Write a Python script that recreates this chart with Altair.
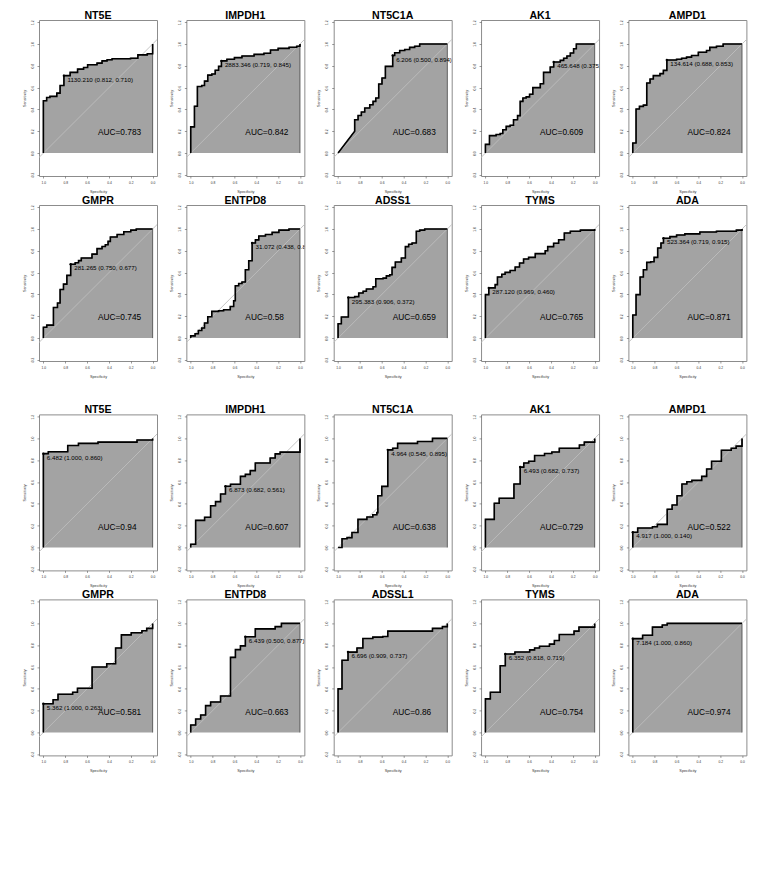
import altair as alt
import pandas as pd

FONT = "Liberation Sans"
FILL = "#a3a3a3"
DIAG = "#bdbdbd"
BOX = "#8c8c8c"

X_MIN, X_MAX = -0.04, 1.04
Y_MIN, Y_MAX = -0.21, 1.22
X_TICKS = [1.0, 0.8, 0.6, 0.4, 0.2, 0.0]
Y_TICKS = [-0.2, 0.0, 0.2, 0.4, 0.6, 0.8, 1.0, 1.2]
AUC_X, AUC_Y = 0.5, 0.18

# ---------------- top figure ----------------
TITLES_TOP = ["NT5E", "IMPDH1", "NT5C1A", "AK1", "AMPD1",
              "GMPR", "ENTPD8", "ADSS1", "TYMS", "ADA"]
AUC_TOP = ["0.783", "0.842", "0.683", "0.609", "0.824",
           "0.745", "0.58", "0.659", "0.765", "0.871"]
THR_TOP = ["1130.210", "2883.346", "6.206", "465.648", "134.614",
           "281.265", "31.072", "295.383", "287.120", "523.364"]
THR_SPEC_TOP = [0.812, 0.719, 0.500, 0.375, 0.688, 0.750, 0.438, 0.906, 0.969, 0.719]
THR_SENS_TOP = [0.710, 0.845, 0.894, 0.835, 0.853, 0.677, 0.872, 0.372, 0.460, 0.915]

# ---------------- bottom figure ----------------
TITLES_BOT = ["NT5E", "IMPDH1", "NT5C1A", "AK1", "AMPD1",
              "GMPR", "ENTPD8", "ADSSL1", "TYMS", "ADA"]
AUC_BOT = ["0.94", "0.607", "0.638", "0.729", "0.522",
           "0.581", "0.663", "0.86", "0.754", "0.974"]
THR_BOT = ["6.482", "6.873", "4.964", "6.493", "4.917",
           "5.362", "6.439", "6.696", "6.352", "7.184"]
THR_SPEC_BOT = [1.000, 0.682, 0.545, 0.682, 1.000, 1.000, 0.500, 0.909, 0.818, 1.000]
THR_SENS_BOT = [0.860, 0.561, 0.895, 0.737, 0.140, 0.263, 0.877, 0.737, 0.719, 0.860]

# ROC step corners (specificity where sensitivity jumps, sensitivity after the jump)
nt5e_a_spec = [1.0, 0.97, 0.94, 0.877, 0.847, 0.812, 0.755, 0.687, 0.632, 0.595, 0.509, 0.463, 0.417, 0.371, 0.202, 0.135, 0.049, 0.0]
nt5e_a_sens = [0.48, 0.51, 0.52, 0.55, 0.62, 0.71, 0.74, 0.77, 0.785, 0.81, 0.825, 0.845, 0.855, 0.865, 0.87, 0.90, 0.91, 1.0]
impdh1_a_spec = [1.0, 0.966, 0.939, 0.899, 0.874, 0.844, 0.807, 0.776, 0.745, 0.719, 0.669, 0.600, 0.531, 0.42, 0.33, 0.27, 0.20, 0.10, 0.03, 0.0]
impdh1_a_sens = [0.24, 0.43, 0.61, 0.62, 0.66, 0.715, 0.725, 0.76, 0.795, 0.845, 0.86, 0.875, 0.89, 0.905, 0.915, 0.945, 0.96, 0.97, 0.98, 1.0]
nt5c1a_a_spec = [0.848, 0.848, 0.817, 0.787, 0.756, 0.71, 0.68, 0.655, 0.628, 0.598, 0.567, 0.50, 0.482, 0.436, 0.39, 0.345, 0.299, 0.253, 0.0]
nt5c1a_a_sens = [0.2, 0.306, 0.345, 0.376, 0.413, 0.443, 0.474, 0.505, 0.633, 0.688, 0.795, 0.894, 0.92, 0.94, 0.95, 0.969, 0.98, 1.0, 1.0]
ak1_a_spec = [1.0, 0.963, 0.902, 0.865, 0.841, 0.81, 0.774, 0.743, 0.706, 0.682, 0.657, 0.627, 0.596, 0.566, 0.498, 0.468, 0.407, 0.375, 0.315, 0.284, 0.254, 0.223, 0.193, 0.168, 0.0]
ak1_a_sens = [0.08, 0.16, 0.17, 0.18, 0.214, 0.245, 0.255, 0.306, 0.343, 0.474, 0.505, 0.515, 0.54, 0.60, 0.636, 0.74, 0.789, 0.835, 0.85, 0.87, 0.89, 0.917, 0.957, 1.0, 1.0]
ampd1_a_spec = [1.0, 0.97, 0.939, 0.903, 0.872, 0.842, 0.812, 0.751, 0.72, 0.688, 0.599, 0.553, 0.508, 0.462, 0.40, 0.325, 0.295, 0.234, 0.173, 0.0]
ampd1_a_sens = [0.092, 0.404, 0.428, 0.44, 0.642, 0.679, 0.71, 0.728, 0.758, 0.853, 0.86, 0.87, 0.88, 0.895, 0.925, 0.94, 0.969, 0.98, 1.0, 1.0]
gmpr_a_spec = [1.0, 0.969, 0.908, 0.871, 0.847, 0.816, 0.785, 0.75, 0.709, 0.678, 0.653, 0.555, 0.509, 0.463, 0.433, 0.408, 0.387, 0.325, 0.264, 0.2, 0.15, 0.0]
gmpr_a_sens = [0.10, 0.119, 0.281, 0.321, 0.446, 0.495, 0.575, 0.677, 0.69, 0.71, 0.734, 0.77, 0.82, 0.84, 0.856, 0.887, 0.927, 0.95, 0.975, 0.99, 1.0, 1.0]
entpd8_a_spec = [1.0, 0.96, 0.93, 0.899, 0.874, 0.844, 0.807, 0.745, 0.699, 0.638, 0.607, 0.592, 0.561, 0.531, 0.50, 0.469, 0.438, 0.408, 0.377, 0.316, 0.255, 0.193, 0.101, 0.0]
entpd8_a_sens = [0.02, 0.04, 0.07, 0.092, 0.138, 0.196, 0.245, 0.25, 0.26, 0.29, 0.342, 0.48, 0.50, 0.514, 0.627, 0.709, 0.872, 0.90, 0.936, 0.95, 0.969, 0.99, 1.0, 1.0]
adss1_a_spec = [1.0, 0.97, 0.906, 0.848, 0.811, 0.771, 0.741, 0.68, 0.655, 0.588, 0.558, 0.527, 0.506, 0.476, 0.421, 0.384, 0.354, 0.323, 0.284, 0.253, 0.207, 0.0]
adss1_a_sens = [0.131, 0.193, 0.372, 0.38, 0.413, 0.43, 0.45, 0.47, 0.544, 0.55, 0.57, 0.58, 0.648, 0.697, 0.734, 0.838, 0.86, 0.872, 0.979, 0.99, 1.0, 1.0]
tyms_a_spec = [1.0, 0.969, 0.911, 0.89, 0.85, 0.82, 0.774, 0.728, 0.688, 0.651, 0.605, 0.544, 0.453, 0.43, 0.376, 0.33, 0.278, 0.223, 0.131, 0.0]
tyms_a_sens = [0.398, 0.46, 0.49, 0.56, 0.585, 0.602, 0.62, 0.651, 0.688, 0.725, 0.74, 0.774, 0.80, 0.838, 0.87, 0.902, 0.963, 0.98, 0.99, 1.0]
ada_a_spec = [1.0, 0.97, 0.933, 0.903, 0.872, 0.836, 0.805, 0.772, 0.742, 0.719, 0.66, 0.599, 0.523, 0.386, 0.234, 0.052, 0.0]
ada_a_sens = [0.211, 0.398, 0.56, 0.627, 0.694, 0.70, 0.74, 0.826, 0.872, 0.915, 0.93, 0.945, 0.955, 0.972, 0.98, 0.99, 1.0]

nt5e_b_spec = [1.0, 0.955, 0.777, 0.679, 0.5, 0.143, 0.0]
nt5e_b_sens = [0.86, 0.877, 0.935, 0.954, 0.966, 0.985, 1.0]
impdh1_b_spec = [1.0, 0.955, 0.873, 0.818, 0.773, 0.727, 0.682, 0.636, 0.545, 0.5, 0.455, 0.409, 0.273, 0.227, 0.182, 0.0]
impdh1_b_sens = [0.03, 0.249, 0.277, 0.382, 0.42, 0.49, 0.561, 0.58, 0.652, 0.67, 0.705, 0.775, 0.82, 0.858, 0.874, 1.0]
nt5c1a_b_spec = [0.964, 0.918, 0.873, 0.818, 0.736, 0.682, 0.645, 0.636, 0.60, 0.545, 0.50, 0.455, 0.273, 0.136, 0.0]
nt5c1a_b_sens = [0.08, 0.09, 0.138, 0.258, 0.28, 0.30, 0.32, 0.474, 0.56, 0.895, 0.91, 0.954, 0.972, 1.0, 1.0]
ak1_b_spec = [1.0, 0.919, 0.874, 0.739, 0.682, 0.649, 0.604, 0.55, 0.459, 0.392, 0.324, 0.14, 0.095, 0.0]
ak1_b_sens = [0.258, 0.406, 0.452, 0.582, 0.737, 0.775, 0.79, 0.843, 0.862, 0.875, 0.91, 0.94, 0.966, 1.0]
ampd1_b_spec = [1.0, 0.955, 0.82, 0.775, 0.685, 0.64, 0.595, 0.55, 0.505, 0.459, 0.369, 0.324, 0.279, 0.189, 0.099, 0.054, 0.0]
ampd1_b_sens = [0.14, 0.178, 0.19, 0.212, 0.351, 0.39, 0.474, 0.582, 0.603, 0.615, 0.652, 0.72, 0.79, 0.892, 0.91, 0.929, 1.0]
gmpr_b_spec = [1.0, 0.911, 0.866, 0.732, 0.688, 0.554, 0.42, 0.339, 0.286, 0.196, 0.098, 0.054, 0.0]
gmpr_b_sens = [0.263, 0.30, 0.351, 0.369, 0.406, 0.60, 0.63, 0.775, 0.895, 0.914, 0.932, 0.954, 1.0]
entpd8_b_spec = [1.0, 0.955, 0.909, 0.864, 0.818, 0.727, 0.636, 0.591, 0.545, 0.5, 0.409, 0.227, 0.17, 0.0]
entpd8_b_sens = [0.068, 0.123, 0.16, 0.246, 0.28, 0.335, 0.689, 0.76, 0.794, 0.877, 0.95, 0.97, 1.0, 1.0]
adssl1_b_spec = [1.0, 0.964, 0.909, 0.827, 0.773, 0.682, 0.591, 0.545, 0.136, 0.045, 0.0]
adssl1_b_sens = [0.40, 0.662, 0.737, 0.775, 0.862, 0.874, 0.88, 0.929, 0.954, 0.97, 1.0]
tyms_b_spec = [1.0, 0.955, 0.865, 0.818, 0.73, 0.595, 0.55, 0.505, 0.414, 0.369, 0.324, 0.189, 0.144, 0.0]
tyms_b_sens = [0.308, 0.369, 0.612, 0.719, 0.738, 0.757, 0.775, 0.79, 0.81, 0.843, 0.898, 0.929, 0.966, 1.0]
ada_b_spec = [1.0, 0.91, 0.82, 0.73, 0.685, 0.0]
ada_b_sens = [0.86, 0.892, 0.966, 0.985, 1.0, 1.0]

CURVES_TOP = [(nt5e_a_spec, nt5e_a_sens), (impdh1_a_spec, impdh1_a_sens), (nt5c1a_a_spec, nt5c1a_a_sens),
              (ak1_a_spec, ak1_a_sens), (ampd1_a_spec, ampd1_a_sens), (gmpr_a_spec, gmpr_a_sens),
              (entpd8_a_spec, entpd8_a_sens), (adss1_a_spec, adss1_a_sens), (tyms_a_spec, tyms_a_sens),
              (ada_a_spec, ada_a_sens)]
CURVES_BOT = [(nt5e_b_spec, nt5e_b_sens), (impdh1_b_spec, impdh1_b_sens), (nt5c1a_b_spec, nt5c1a_b_sens),
              (ak1_b_spec, ak1_b_sens), (ampd1_b_spec, ampd1_b_sens), (gmpr_b_spec, gmpr_b_sens),
              (entpd8_b_spec, entpd8_b_sens), (adssl1_b_spec, adssl1_b_sens), (tyms_b_spec, tyms_b_sens),
              (ada_b_spec, ada_b_sens)]
STRAIGHT_FIRST_TOP = [False, False, True, False, False, False, False, False, False, False]


def roc_path(spec, sens, straight_first=False):
    pts = [(1.0, 0.0)]
    for i, (s, e) in enumerate(zip(spec, sens)):
        if i == 0 and straight_first:
            pts.append((s, e))
            continue
        ps, pe = pts[-1]
        if s != ps:
            pts.append((s, pe))
        if e != pe:
            pts.append((s, e))
    return pts


YLAB = "datum.value < 0 ? '-' + format(-datum.value, '.1f') : format(datum.value, '.1f')"

X_AXIS = alt.Axis(values=X_TICKS, format=".1f", labelFontSize=3.3, titleFontSize=3.8,
                  tickSize=2, tickWidth=0.6, tickColor="#555", labelPadding=2.2,
                  titlePadding=6, domain=False, grid=False, labelFlush=False,
                  labelOverlap=False, labelColor="#333", titleColor="#333",
                  titleFontWeight="normal", labelFont=FONT, titleFont=FONT)
Y_AXIS = alt.Axis(values=Y_TICKS, labelExpr=YLAB, labelFontSize=3.3, titleFontSize=3.8,
                  tickSize=2, tickWidth=0.6, tickColor="#555", labelPadding=3,
                  labelAngle=270, labelAlign="center", labelBaseline="bottom",
                  titlePadding=4, domain=False, grid=False, labelFlush=False,
                  labelOverlap=False, labelColor="#333", titleColor="#333",
                  titleFontWeight="normal", labelFont=FONT, titleFont=FONT)


def panel(title, curve, thr, thr_spec, thr_sens, auc, straight_first=False):
    pts = roc_path(curve[0], curve[1], straight_first)
    df = pd.DataFrame({"spec": [p[0] for p in pts], "sens": [p[1] for p in pts],
                       "i": list(range(len(pts)))})
    xs = alt.Scale(domain=[X_MIN, X_MAX], reverse=True, nice=False, zero=False)
    ys = alt.Scale(domain=[Y_MIN, Y_MAX], nice=False, zero=False)
    x = alt.X("spec:Q", scale=xs, axis=X_AXIS, title="Specificity")
    y = alt.Y("sens:Q", scale=ys, axis=Y_AXIS, title="Sensitivity")
    # filled polygon under the curve: the curve, closed back along sensitivity 0
    poly = pts + [(0.0, 0.0)]
    pdf = pd.DataFrame({"spec": [p[0] for p in poly], "sens": [p[1] for p in poly],
                        "i": list(range(len(poly)))})
    fillpoly = alt.Chart(pdf).mark_line(fill=FILL, stroke="#444", strokeWidth=0.8,
                                        strokeJoin="miter").encode(x=x, y=y, order="i:Q")
    diag_df = pd.DataFrame({"spec": [X_MAX], "sens": [1 - X_MAX],
                            "spec2": [X_MIN], "sens2": [1 - X_MIN]})
    diag = alt.Chart(diag_df).mark_rule(color=DIAG, strokeWidth=0.9).encode(
        x=x, y=y, x2="spec2:Q", y2="sens2:Q")
    line = alt.Chart(df).mark_line(color="black", strokeWidth=1.6).encode(x=x, y=y, order="i:Q")
    tdf = pd.DataFrame({"spec": [thr_spec], "sens": [thr_sens],
                        "label": [f"{thr} ({thr_spec:.3f}, {thr_sens:.3f})"]})
    pt = alt.Chart(tdf).mark_circle(color="black", size=6, opacity=1).encode(x=x, y=y)
    txt = alt.Chart(tdf).mark_text(align="left", baseline="middle", dx=3.5, dy=4, fontSize=6.2,
                                   font=FONT, color="black", clip=True).encode(x=x, y=y, text="label:N")
    adf = pd.DataFrame({"spec": [AUC_X], "sens": [AUC_Y], "label": ["AUC=" + auc]})
    atxt = alt.Chart(adf).mark_text(align="left", baseline="middle", fontSize=8.3,
                                    font=FONT, color="black").encode(x=x, y=y, text="label:N")
    return alt.layer(fillpoly, diag, line, pt, txt, atxt).properties(
        width=118, height=156,
        title=alt.TitleParams(title, fontSize=10.6, font=FONT, fontWeight="bold",
                              offset=-9.3, baseline="alphabetic", anchor="middle", color="black"))


def block(titles, curves, thrs, tsp, tse, aucs, straight=None):
    ps = []
    for k in range(10):
        ps.append(panel(titles[k], curves[k], thrs[k], tsp[k], tse[k], aucs[k],
                        straight[k] if straight else False))
    return alt.concat(*ps, columns=5, spacing={"row": 29, "column": 29.35}, bounds="flush")


top = block(TITLES_TOP, CURVES_TOP, THR_TOP, THR_SPEC_TOP, THR_SENS_TOP, AUC_TOP, STRAIGHT_FIRST_TOP)
bot = block(TITLES_BOT, CURVES_BOT, THR_BOT, THR_SPEC_BOT, THR_SENS_BOT, AUC_BOT)

chart = alt.vconcat(top, bot, spacing=25.4).properties(
    padding={"left": 21, "top": 10, "right": 5, "bottom": 5}
).configure(font=FONT).configure_view(stroke=BOX, strokeWidth=1)

chart.save("out.html", embed_options={"renderer": "svg", "actions": False})
